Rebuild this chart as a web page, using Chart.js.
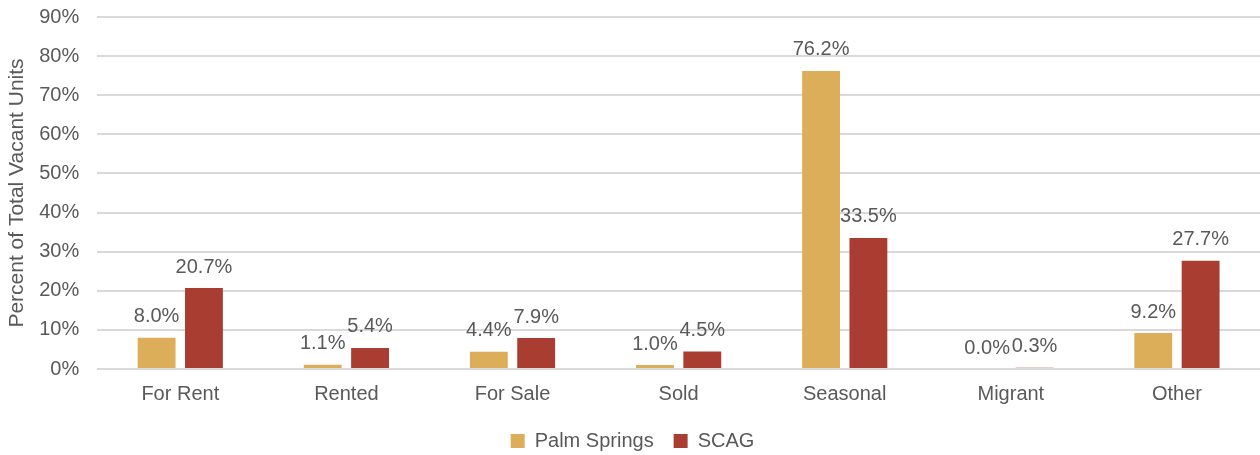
<!DOCTYPE html>
<html lang="en">
<head>
  <meta charset="UTF-8">
  <title>Vacancy Status</title>
  <script src="https://cdn.jsdelivr.net/npm/chart.js"></script>
  <style>
    html, body { margin: 0; padding: 0; background: #fff; overflow: hidden; }
    #wrap { width: 1260px; height: 468px; margin-top: -13px; }
  </style>
</head>
<body>
  <div id="wrap"><canvas id="myChart"></canvas></div>
  <script>
    const categories = ['For Rent', 'Rented', 'For Sale', 'Sold', 'Seasonal', 'Migrant', 'Other'];
    const palmSprings = [8.0, 1.1, 4.4, 1.0, 76.2, 0.0, 9.2];
    const scag = [20.7, 5.4, 7.9, 4.5, 33.5, 0.3, 27.7];
    const yTicks = [0, 10, 20, 30, 40, 50, 60, 70, 80, 90];

    const FONT = 'Liberation Sans, Arial, sans-serif';
    const GREY = '#595959';

    // draw value labels above each bar
    const valueLabels = {
      id: 'valueLabels',
      afterDatasetsDraw(chart) {
        const ctx = chart.ctx;
        ctx.save();
        ctx.font = '20px ' + FONT;
        ctx.fillStyle = GREY;
        ctx.textAlign = 'center';
        ctx.textBaseline = 'bottom';
        chart.data.datasets.forEach((ds, i) => {
          chart.getDatasetMeta(i).data.forEach((bar, j) => {
            ctx.fillText(ds.data[j].toFixed(1) + '%', bar.x, bar.y - 11);
          });
        });
        ctx.restore();
      }
    };

    new Chart(document.getElementById('myChart'), {
      type: 'bar',
      data: {
        labels: categories,
        datasets: [
          { label: 'Palm Springs', data: palmSprings, backgroundColor: '#DCAE5A' },
          { label: 'SCAG', data: scag, backgroundColor: '#A93D32' }
        ]
      },
      options: {
        responsive: true,
        maintainAspectRatio: false,
        animation: false,
        categoryPercentage: 0.57,
        barPercentage: 0.8,
        layout: { padding: { top: 0, right: 0, left: 5, bottom: -6 } },
        plugins: {
          legend: {
            position: 'bottom',
            labels: {
              font: { family: FONT, size: 20 },
              color: GREY,
              boxWidth: 14,
              boxHeight: 14,
              padding: 20
            }
          },
          tooltip: { enabled: false }
        },
        scales: {
          x: {
            grid: { display: false },
            border: { display: false },
            ticks: { font: { family: FONT, size: 20 }, color: GREY, padding: 5 }
          },
          y: {
            min: 0,
            max: 90,
            afterBuildTicks: axis => { axis.ticks = yTicks.map(v => ({ value: v })); },
            grid: { color: '#D9D9D9', lineWidth: 2, drawTicks: false },
            border: { display: false },
            title: {
              display: true,
              text: 'Percent of Total Vacant Units',
              font: { family: FONT, size: 21 },
              color: GREY,
              padding: { top: 0, bottom: -9 }
            },
            ticks: {
              font: { family: FONT, size: 20 },
              color: GREY,
              padding: 18,
              callback: v => v + '%'
            }
          }
        }
      },
      plugins: [valueLabels]
    });
  </script>
</body>
</html>
